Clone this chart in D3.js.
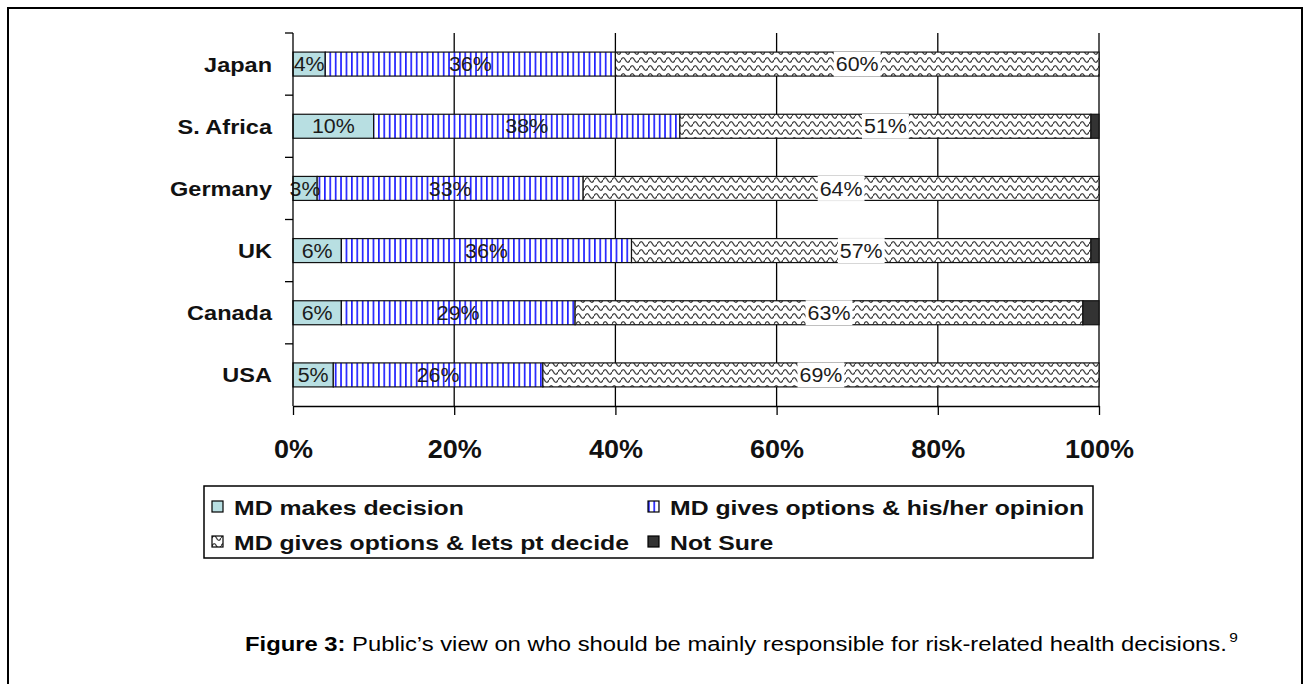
<!DOCTYPE html>
<html>
<head>
<meta charset="utf-8">
<script src="https://cdn.jsdelivr.net/npm/d3@7"></script>
<style>
  body { margin: 0; background: #fff; }
  text { font-family: Arial, "Liberation Sans", sans-serif; }
</style>
</head>
<body>
<svg width="1307" height="684"></svg>
<script>
// data (percent of respondents)
const countries = ["Japan", "S. Africa", "Germany", "UK", "Canada", "USA"];
const mdDecides = [4, 10, 3, 6, 6, 5];
const mdOpinion = [36, 38, 33, 36, 29, 26];
const ptDecides = [60, 51, 64, 57, 63, 69];
const notSure = [0, 1, 0, 1, 2, 0];
const seriesNames = ["MD makes decision", "MD gives options & his/her opinion",
  "MD gives options & lets pt decide", "Not Sure"];
const xTicks = [0, 20, 40, 60, 80, 100];
const captionBold = "Figure 3:";
const captionText = " Public\u2019s view on who should be mainly responsible for risk-related health decisions.";
const captionRef = "9";

let svg = d3.select("svg"),
  plotL = 293, plotR = 1099, plotT = 33, plotB = 406;

svg.append("rect").attr("width", 1307).attr("height", 684).attr("fill", "#fff");
// page frame
svg.append("rect")
  .attr("x", 8).attr("y", 8).attr("width", 1294).attr("height", 700)
  .attr("fill", "none").attr("stroke", "#000").attr("stroke-width", 2);

let defs = svg.append("defs");

let stripes = defs.append("pattern").attr("id", "stripes")
  .attr("patternUnits", "userSpaceOnUse").attr("width", 5.4).attr("height", 10);
stripes.append("rect").attr("width", 5.4).attr("height", 10).attr("fill", "#fff");
stripes.append("rect").attr("x", 0).attr("width", 1.7).attr("height", 10).attr("fill", "#2222ff");

let waves = defs.append("pattern").attr("id", "waves")
  .attr("patternUnits", "userSpaceOnUse").attr("width", 9).attr("height", 8);
waves.append("rect").attr("width", 9).attr("height", 8).attr("fill", "#fff");
waves.append("path")
  .attr("d", "M0,4 C1.5,0.8 3,0.8 4.5,4 C6,7.2 7.5,7.2 9,4")
  .attr("fill", "none").attr("stroke", "#444").attr("stroke-width", 1.4);

const fills = ["#b8dfe2", "url(#stripes)", "url(#waves)", "#333"];

let rows = countries.map((c, i) => ({
  country: c, s0: mdDecides[i], s1: mdOpinion[i], s2: ptDecides[i], s3: notSure[i]
}));

let stack = d3.stack().keys(["s0", "s1", "s2", "s3"]);
let layers = stack(rows);

let x = d3.scaleLinear().domain([0, 100]).range([plotL, plotR]);
let y = d3.scaleBand().domain(countries).range([plotT, plotB])
  .paddingInner(0.614).paddingOuter(0.307);

// vertical grid lines
svg.append("g").selectAll("line")
  .data(xTicks.slice(1))
  .enter().append("line")
  .attr("x1", (d) => x(d)).attr("x2", (d) => x(d))
  .attr("y1", plotT).attr("y2", plotB)
  .attr("stroke", "#000").attr("stroke-width", 1.3);

// bars
let layer = svg.append("g").selectAll("g")
  .data(layers)
  .enter().append("g")
  .attr("fill", (d, i) => fills[i]);

layer.selectAll("rect")
  .data((d) => d.filter((p) => p[1] > p[0]))
  .enter().append("rect")
  .attr("x", (d) => x(d[0]))
  .attr("y", (d) => y(d.data.country))
  .attr("width", (d) => x(d[1]) - x(d[0]))
  .attr("height", y.bandwidth())
  .attr("stroke", "#111").attr("stroke-width", 1.2);

// value labels
let labelSx = 1.07;
layers.slice(0, 3).forEach((ly, k) => {
  let g = svg.append("g");
  ly.forEach((p) => {
    let v = p[1] - p[0];
    if (v <= 0) return;
    let cx = (x(p[0]) + x(p[1])) / 2,
      cy = y(p.data.country) + y.bandwidth() / 2;
    let bg = g.append("rect");
    let t = g.append("text")
      .attr("transform", "translate(" + cx + "," + cy + ") scale(" + labelSx + ",1)")
      .attr("text-anchor", "middle").attr("dy", "0.36em")
      .style("font-size", "20px").attr("fill", "#1b1b1b")
      .text(v + "%");
    if (k === 2) {
      let w = t.node().getComputedTextLength() * labelSx + 4;
      bg.attr("x", cx - w / 2).attr("y", y(p.data.country) - 0.5)
        .attr("width", w).attr("height", y.bandwidth() + 1).attr("fill", "#fff");
    } else bg.remove();
  });
});

// y axis with ticks on band boundaries
let yAxis = svg.append("g");
yAxis.append("line")
  .attr("x1", plotL).attr("x2", plotL).attr("y1", plotT).attr("y2", plotB)
  .attr("stroke", "#000").attr("stroke-width", 1.3);
let bounds = countries.map((c) => y(c) - y.step() * y.paddingInner() / 2);
yAxis.selectAll(".tk")
  .data(bounds)
  .enter().append("line")
  .attr("x1", plotL - 8).attr("x2", plotL)
  .attr("y1", (d) => d).attr("y2", (d) => d)
  .attr("stroke", "#000").attr("stroke-width", 1.3);
yAxis.selectAll(".lbl")
  .data(countries)
  .enter().append("text")
  .attr("transform", (d) => "translate(" + (plotL - 21) + "," + (y(d) + y.bandwidth() / 2) + ") scale(1.12,1)")
  .attr("text-anchor", "end").attr("dy", "0.36em")
  .style("font-size", "21px").style("font-weight", "bold").attr("fill", "#111")
  .text((d) => d);

// x axis
let xAxis = svg.append("g")
  .attr("transform", "translate(0," + plotB + ")")
  .call(d3.axisBottom(x).tickValues(xTicks).tickSize(9).tickSizeOuter(0)
    .tickFormat((d) => d + "%"));
xAxis.select(".domain").attr("stroke", "#000").attr("stroke-width", 1.3);
xAxis.selectAll(".tick line").attr("stroke", "#000").attr("stroke-width", 1.3);
xAxis.selectAll(".tick text")
  .attr("y", 52).attr("dy", 0)
  .attr("transform", "scale(1.08,1)")
  .style("font-size", "25px").style("font-weight", "bold").attr("fill", "#111");

// legend
let legend = svg.append("g");
legend.append("rect")
  .attr("x", 204).attr("y", 486).attr("width", 889).attr("height", 72)
  .attr("fill", "#fff").attr("stroke", "#000").attr("stroke-width", 1.5);
let legPos = [[212, 507], [648, 507], [212, 542], [648, 542]];
let item = legend.selectAll(".item")
  .data(seriesNames)
  .enter().append("g")
  .attr("transform", (d, i) => "translate(" + legPos[i][0] + "," + legPos[i][1] + ")");
item.append("rect")
  .attr("x", 0).attr("y", -6).attr("width", 11).attr("height", 11)
  .attr("fill", (d, i) => fills[i]).attr("stroke", "#000").attr("stroke-width", 1.2);
item.append("text")
  .attr("transform", "translate(22,0) scale(1.18,1)")
  .attr("dy", "0.36em")
  .style("font-size", "21px").style("font-weight", "bold").attr("fill", "#111")
  .text((d) => d);

// caption
let cap = svg.append("text")
  .attr("transform", "translate(245,651) scale(1.19,1)")
  .style("font-size", "20px").attr("fill", "#000");
cap.append("tspan").style("font-weight", "bold").text(captionBold);
cap.append("tspan").text(captionText);
cap.append("tspan").attr("dy", -9).attr("dx", 2).style("font-size", "13px").text(captionRef);
</script>
</body>
</html>
